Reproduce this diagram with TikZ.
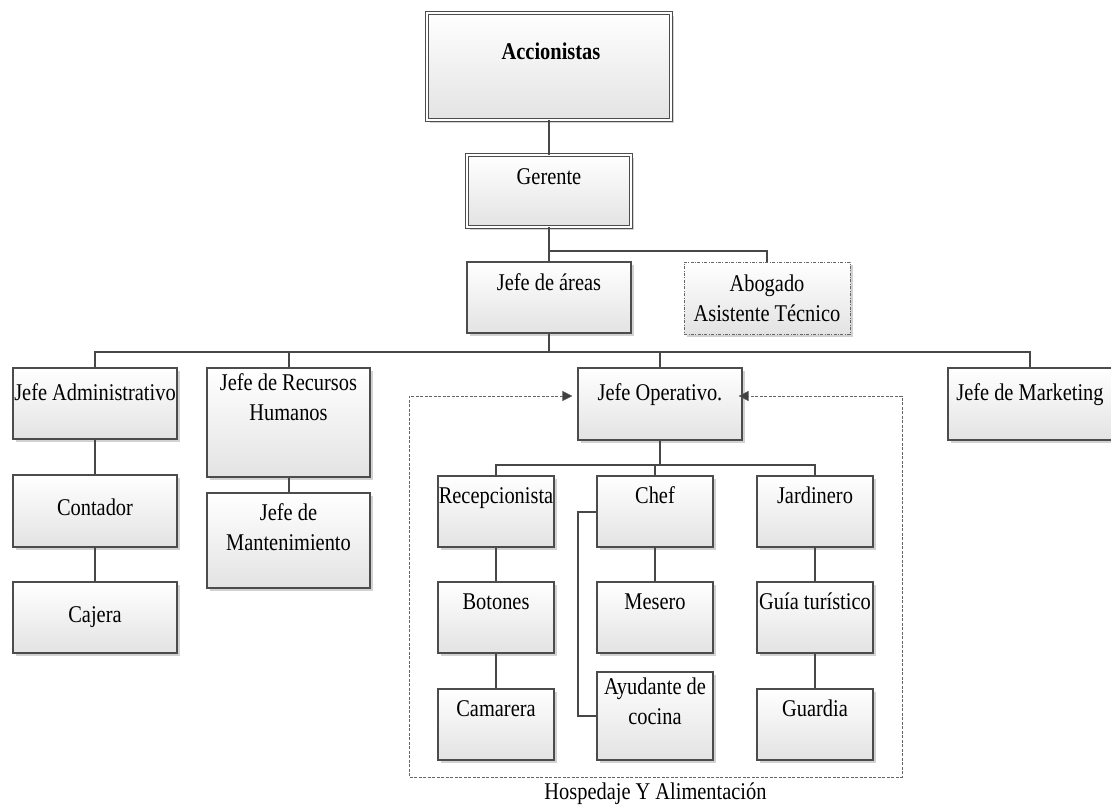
\documentclass[tikz,border=0pt]{standalone}
\usepackage{fontspec}
\setmainfont{Liberation Serif}[FakeStretch=0.85]
\usetikzlibrary{arrows.meta,shadows,calc}

\tikzset{
  card/.style={draw=black!70, line width=1.1pt, top color=white, bottom color=black!11,
    drop shadow={shadow xshift=3pt, shadow yshift=-3pt, fill=black!25, opacity=0.7},
    inner sep=0pt},
  headcard/.style={card, double=white, double distance=1.6pt, line width=0.9pt},
  advcard/.style={card, draw=black!60, line width=0.8pt,
    dash pattern=on 3pt off 1.5pt on 0.8pt off 1.5pt},
  lbl/.style={font=\fontsize{24}{30}\selectfont, align=center, inner sep=0pt, text=black},
  one/.style={lbl, text height=16.5pt, text depth=5pt},
  conn/.style={draw=black!72, line width=2pt},
  frame/.style={draw=black!60, line width=0.8pt, dash pattern=on 3pt off 1.5pt},
  tip/.style={{Triangle[length=10pt,width=10pt,fill=black!75,line width=0.4pt,sep=0pt]}-{Triangle[length=10pt,width=10pt,fill=black!75,line width=0.4pt,sep=0pt]}},
}

\begin{document}
\begin{tikzpicture}[x=1pt,y=-1pt]
\useasboundingbox (0,0) rectangle (1111,804);

% ---------- top levels ----------
\node[headcard, minimum width=244pt, minimum height=107pt] (acc) at (549,66.5) {};
\node[one, font=\fontsize{24}{30}\selectfont\bfseries] (acc-t) at (551,54) {Accionistas};

\node[headcard, minimum width=164pt, minimum height=72pt] (ger) at (549,191) {};
\node[one] (ger-t) at (549,179) {Gerente};

\node[card, minimum width=164pt, minimum height=71pt] (jar) at (549,297.5) {};
\node[one] (jar-t) at (549,285) {Jefe de áreas};

\node[advcard, minimum width=166pt, minimum height=72pt] (abo) at (767,298) {};
\node[lbl] (abo-t) at (767,298) {Abogado\\Asistente Técnico};

% ---------- department heads ----------
\node[card, minimum width=164pt, minimum height=71pt] (jad) at (95,403.5) {};
\node[one] (jad-t) at (95,395) {Jefe Administrativo};

\node[card, minimum width=163pt, minimum height=109pt] (jrh) at (288.5,422.5) {};
\node[lbl] (jrh-t) at (288.5,397) {Jefe de Recursos\\Humanos};

\node[card, minimum width=164pt, minimum height=72pt] (jop) at (660,404) {};
\node[one] (jop-t) at (660,395) {Jefe Operativo.};

\node[card, minimum width=164pt, minimum height=72pt] (jmk) at (1030,404) {};
\node[one] (jmk-t) at (1030,395) {Jefe de Marketing};

% ---------- administration ----------
\node[card, minimum width=164pt, minimum height=72pt] (con) at (95,511) {};
\node[one] (con-t) at (95,510) {Contador};

\node[card, minimum width=164pt, minimum height=71pt] (caj) at (95,617.5) {};
\node[one] (caj-t) at (95,617) {Cajera};

% ---------- human resources ----------
\node[card, minimum width=163pt, minimum height=95pt] (jmt) at (288.5,540.5) {};
\node[lbl] (jmt-t) at (288.5,527) {Jefe de\\Mantenimiento};

% ---------- operations ----------
\node[card, minimum width=116pt, minimum height=71pt] (rec) at (496,511.5) {};
\node[one] (rec-t) at (496,498) {Recepcionista};
\node[card, minimum width=116pt, minimum height=71pt] (chef) at (655,511.5) {};
\node[one] (chef-t) at (655,498) {Chef};
\node[card, minimum width=116pt, minimum height=71pt] (jard) at (815,511.5) {};
\node[one] (jard-t) at (815,498) {Jardinero};

\node[card, minimum width=116pt, minimum height=71pt] (bot) at (496,617.5) {};
\node[one] (bot-t) at (496,604) {Botones};
\node[card, minimum width=116pt, minimum height=71pt] (mes) at (655,617.5) {};
\node[one] (mes-t) at (655,604) {Mesero};
\node[card, minimum width=116pt, minimum height=71pt] (gui) at (815,617.5) {};
\node[one] (gui-t) at (815,604) {Guía turístico};

\node[card, minimum width=116pt, minimum height=71pt] (cam) at (496,724.5) {};
\node[one] (cam-t) at (496,711) {Camarera};
\node[card, minimum width=116pt, minimum height=88pt] (ayu) at (655,716) {};
\node[lbl] (ayu-t) at (655,701) {Ayudante de\\cocina};
\node[card, minimum width=116pt, minimum height=71pt] (gua) at (815,724.5) {};
\node[one] (gua-t) at (815,711) {Guardia};

% ---------- connectors ----------
\draw[conn] (acc) -- (ger);
\draw[conn] (ger) -- (jar);
\draw[conn] (ger.south) -- ++(0,24) -| (abo.north);

\draw[conn] (jar.south) -- ++(0,18) coordinate (bus1);
\draw[conn] (jad.north) -- (jad.north |- bus1) -- (jmk.north |- bus1) -- (jmk.north);
\draw[conn] (jrh.north) -- (jrh.north |- bus1);
\draw[conn] (jop.north) -- (jop.north |- bus1);

\draw[conn] (jad) -- (con);
\draw[conn] (con) -- (caj);
\draw[conn] (jrh) -- (jmt);

\draw[conn] (jop.south) -- ++(0,24) coordinate (bus2);
\draw[conn] (rec.north) -- (rec.north |- bus2) -- (jard.north |- bus2) -- (jard.north);
\draw[conn] (chef.north) -- (chef.north |- bus2);
\draw[conn] (rec) -- (bot);
\draw[conn] (bot) -- (cam);
\draw[conn] (chef) -- (mes);
\draw[conn] (jard) -- (gui);
\draw[conn] (gui) -- (gua);
\draw[conn] (chef.west) -- ++(-18,0) |- (ayu.west);

% ---------- operations group frame ----------
\coordinate (fTL) at (409,396);
\coordinate (fBR) at (902,777);
\draw[frame, tip, shorten <=5pt, shorten >=-4pt] (jop.west |- fTL) -- (fTL) -- (fTL |- fBR) -- (fBR)
  -- (fBR |- fTL) -- (jop.east |- fTL);
\node[one] (grp) at ($(fTL |- fBR)!0.5!(fBR) + (0,17)$) {Hospedaje Y Alimentación};
\end{tikzpicture}
\end{document}
